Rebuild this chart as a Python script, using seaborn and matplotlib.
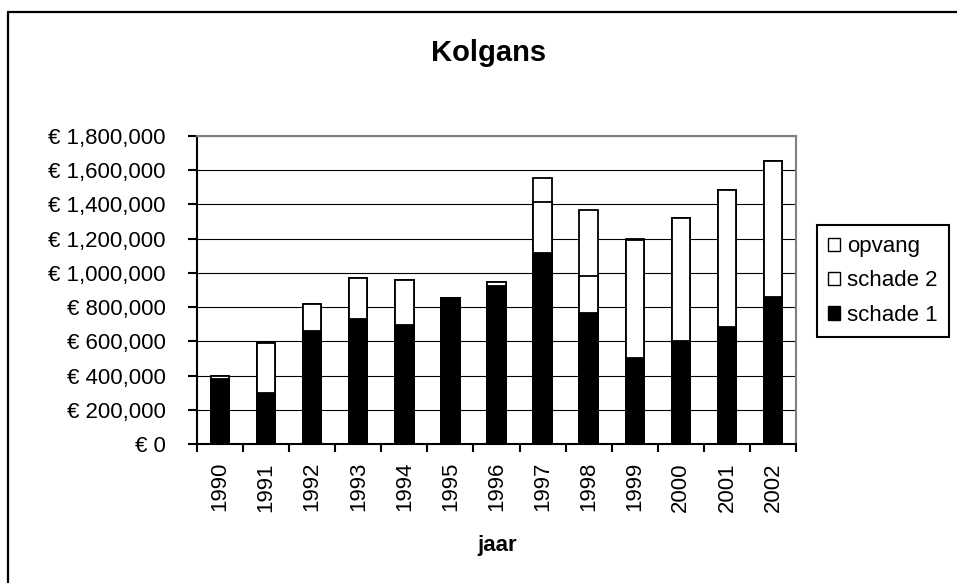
# Kolgans - schade en opvang per jaar (gestapelde staafgrafiek)

import pandas as pd
import seaborn as sns
import matplotlib.pyplot as plt
from matplotlib.lines import Line2D
from matplotlib.patches import Patch
from matplotlib.ticker import FuncFormatter, FixedLocator

# Data
years = ['1990', '1991', '1992', '1993', '1994', '1995', '1996',
         '1997', '1998', '1999', '2000', '2001', '2002']
schade_1 = [378000, 296000, 659000, 729000, 694000, 856000, 926000,
            1115000, 766000, 505000, 602000, 682000, 858000]
schade_2 = [22000, 293000, 161000, 244000, 267000, 0, 23000,
            302000, 218000, 685000, 721000, 805000, 793000]
opvang = [0, 0, 0, 0, 0, 0, 0, 140000, 386000, 8000, 0, 0, 0]

# Cumulative columns for stacking (tallest drawn first)
df = pd.DataFrame({'jaar': years, 's1': schade_1, 's2': schade_2, 'op': opvang})
df['s12'] = df['s1'] + df['s2']
df['tot'] = df['s12'] + df['op']

sns.set_theme(style="white")
plt.rcParams['font.family'] = ['Liberation Sans', 'DejaVu Sans']
plt.rcParams['text.color'] = 'black'
plt.rcParams['xtick.color'] = 'black'
plt.rcParams['ytick.color'] = 'black'
plt.rcParams['axes.labelcolor'] = 'black'

fig = plt.figure(figsize=(9.57, 5.83), dpi=100)
ax = fig.add_axes([197 / 957, 1 - 444 / 583, 599 / 957, 308 / 583])

bar_kws = dict(x='jaar', width=0.4, saturation=1, errorbar=None,
               edgecolor='black', linewidth=1.3, ax=ax, order=years)
sns.barplot(data=df, y='tot', color='white', **bar_kws)
sns.barplot(data=df, y='s12', color='white', **bar_kws)
sns.barplot(data=df, y='s1', color='black', **bar_kws)

# Axes styling
ax.set_xlim(-0.5, 12.5)
ax.set_ylim(0, 1800000)
ax.yaxis.set_major_locator(FixedLocator(range(0, 1800001, 200000)))
ax.yaxis.set_major_formatter(FuncFormatter(lambda v, p: '€ {:,}'.format(int(v))))
ax.grid(axis='y', color='black', linewidth=0.8)
ax.grid(axis='x', visible=False)
ax.set_axisbelow(True)

ax.set_xticks([i - 0.5 for i in range(14)])
ax.set_xticklabels([])
ax.set_xticks(range(13), minor=True)
ax.set_xticklabels(years, minor=True, rotation=90, fontsize=16, va='top')
ax.tick_params(axis='x', which='major', direction='out', length=6, width=1.5,
               color='black', bottom=True)
ax.tick_params(axis='x', which='minor', length=0, pad=13)
ax.tick_params(axis='y', direction='out', length=6.5, width=1.5, color='black',
               left=True, labelsize=16, pad=16)
ax.set_xlabel('')
ax.set_ylabel('')

for side in ['left', 'bottom']:
    ax.spines[side].set_color('black')
    ax.spines[side].set_linewidth(1.5)
for side in ['top', 'right']:
    ax.spines[side].set_color('#808080')
    ax.spines[side].set_linewidth(1.5)

# Titles
fig.text(489 / 957, 1 - 53 / 583, 'Kolgans', ha='center', va='center',
         fontsize=21, fontweight='bold')
fig.text(497 / 957, 1 - 546 / 583, 'jaar', ha='center', va='center',
         fontsize=16, fontweight='bold')

# Legend
handles = [Patch(facecolor='white', edgecolor='black', linewidth=1),
           Patch(facecolor='white', edgecolor='black', linewidth=1),
           Patch(facecolor='black', edgecolor='black', linewidth=1)]
leg = fig.legend(handles, ['opvang', 'schade 2', 'schade 1'],
                 loc='upper left', bbox_to_anchor=(817 / 957, 1 - 225 / 583),
                 fontsize=16, frameon=True, fancybox=False, framealpha=1,
                 handlelength=0.55, handleheight=0.55, handletextpad=0.3,
                 labelspacing=0.6, borderpad=0.5, borderaxespad=0)
leg.get_frame().set_edgecolor('black')
leg.get_frame().set_linewidth(1.5)

# Outer chart border
fig.add_artist(Line2D([8 / 957, 8 / 957], [0, 1 - 12 / 583], color='black', linewidth=1.6))
fig.add_artist(Line2D([8 / 957, 1], [1 - 12 / 583, 1 - 12 / 583], color='black', linewidth=1.6))

fig.savefig('out.png', dpi=100, facecolor='white')
